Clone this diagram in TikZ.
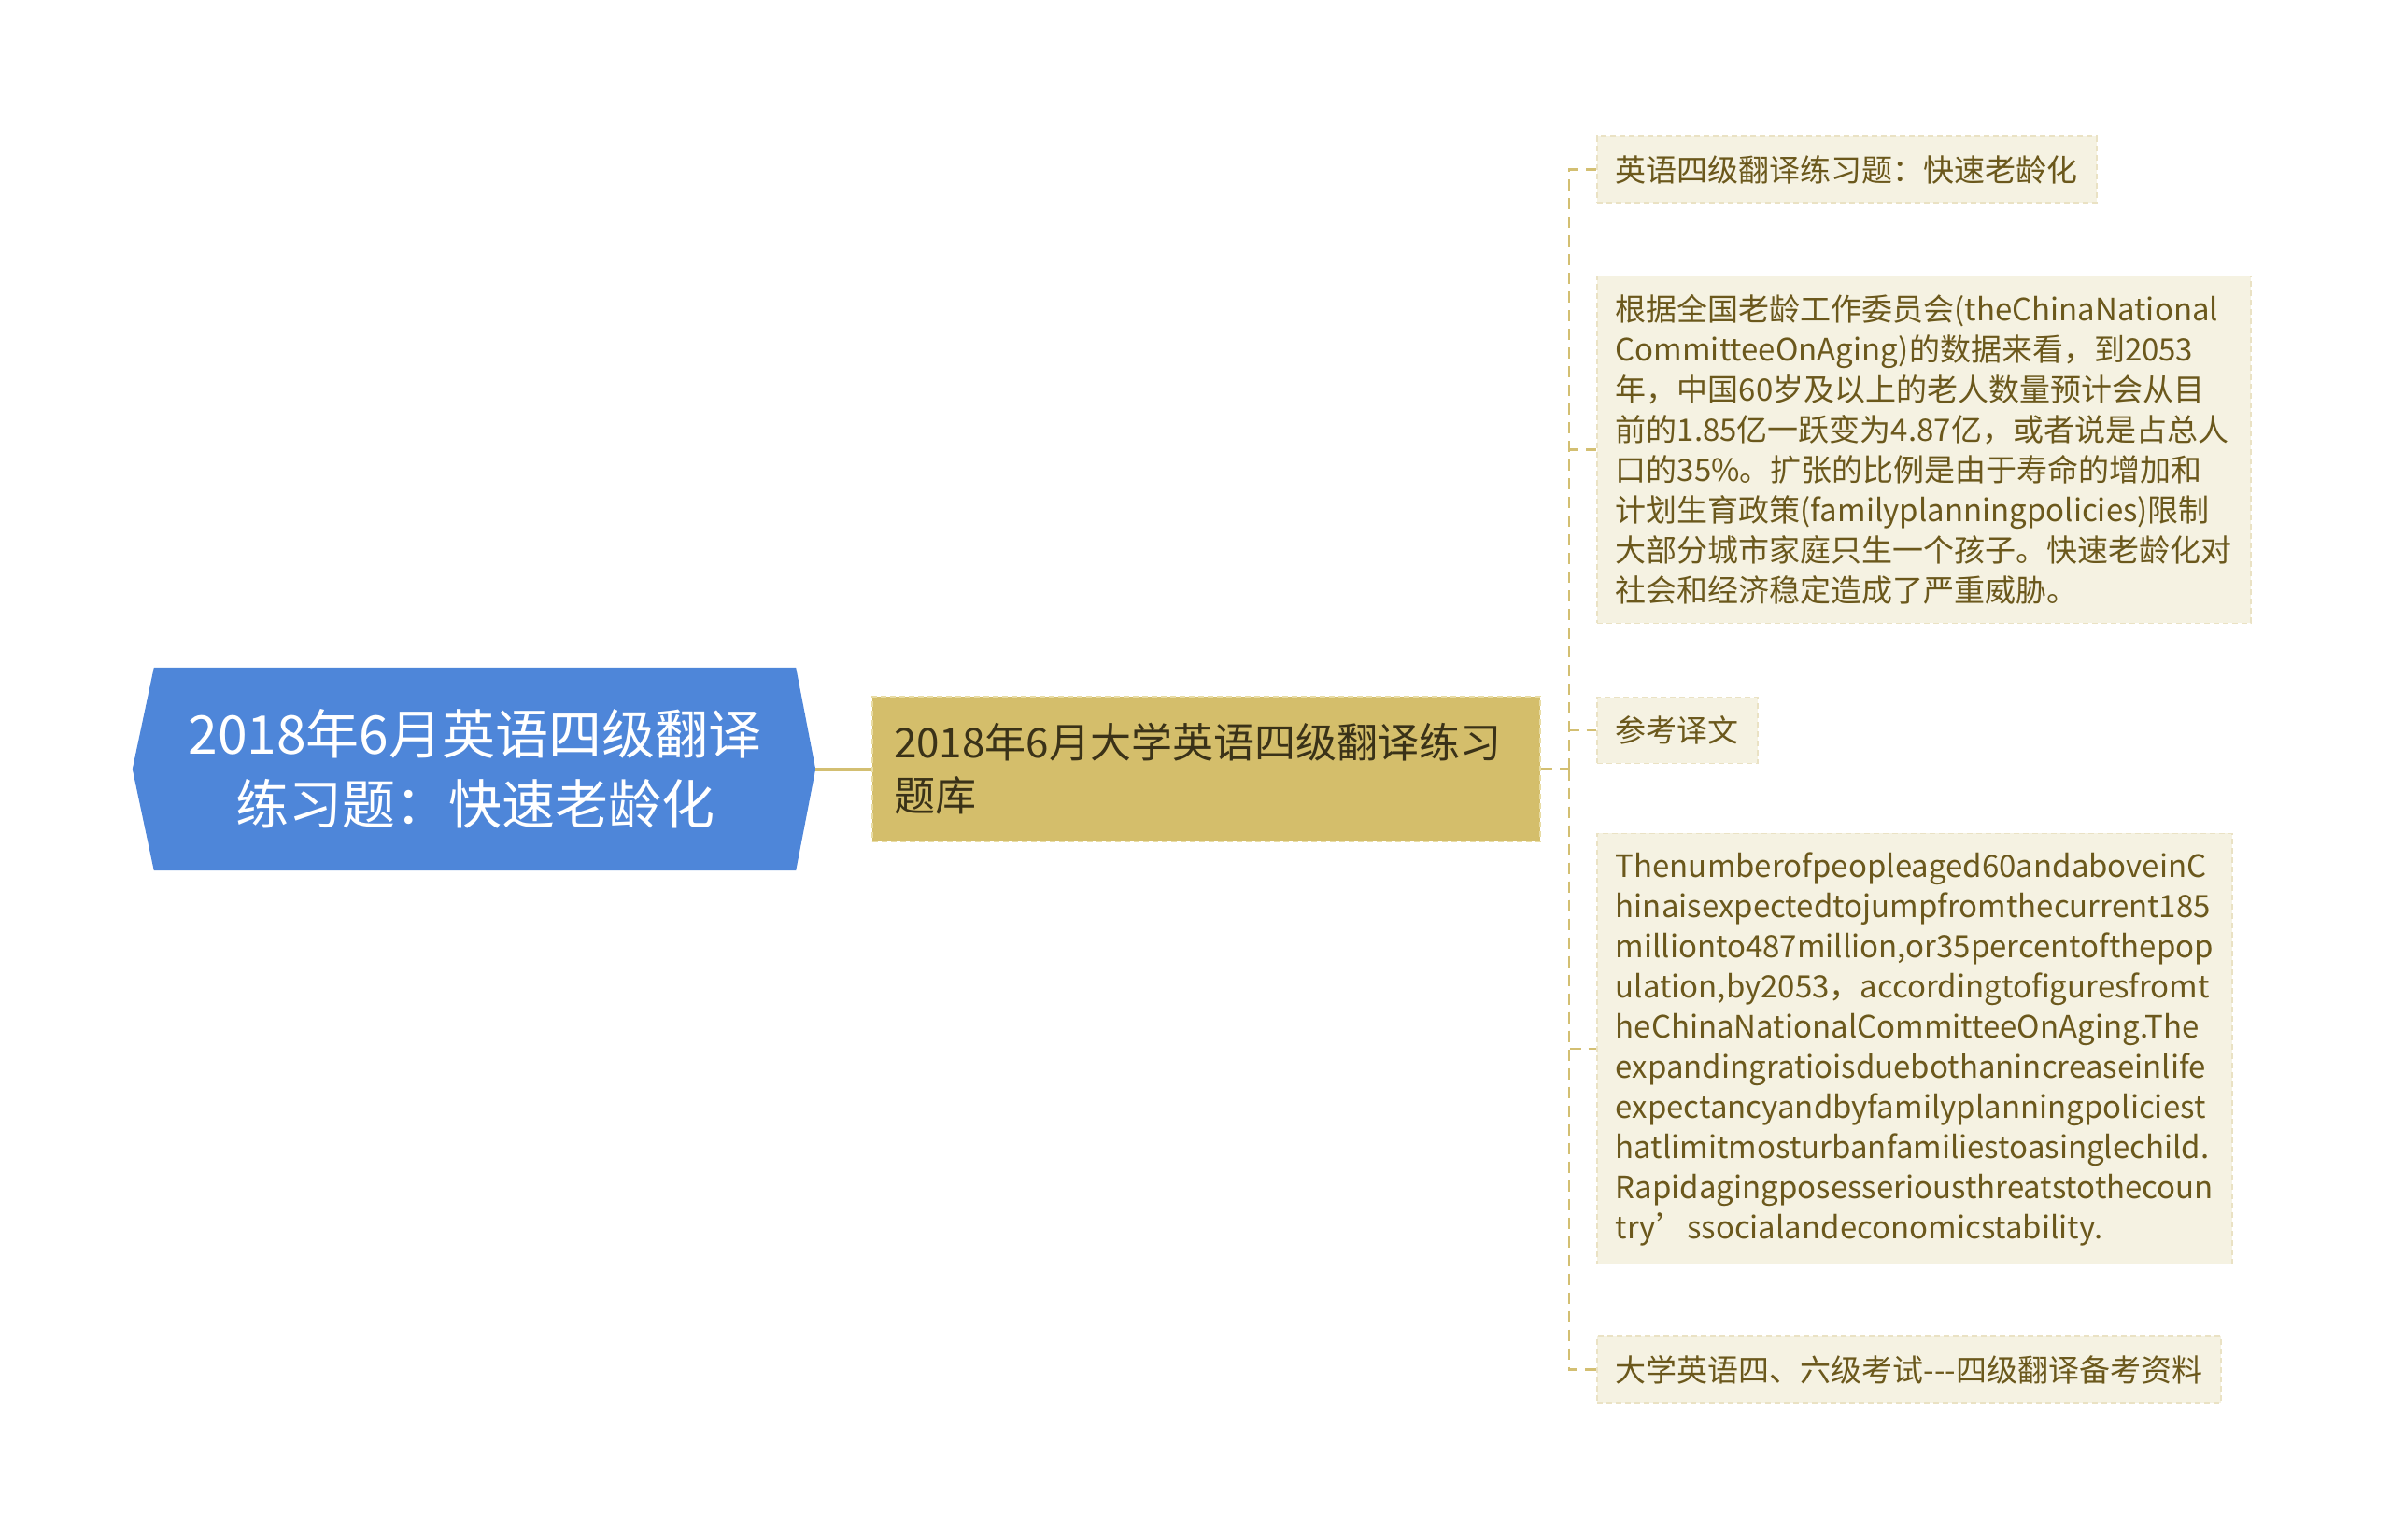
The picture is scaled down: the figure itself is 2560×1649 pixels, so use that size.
\documentclass[tikz,border=0pt]{standalone}
\usepackage{fontspec}
\setmainfont{Noto Sans CJK SC}
\usetikzlibrary{calc}
\definecolor{rootblue}{HTML}{4E86D9}
\definecolor{goldfill}{HTML}{D4BE6B}
\definecolor{goldedge}{HTML}{E8DCA4}
\definecolor{goldline}{HTML}{D3BF72}
\definecolor{creamfill}{HTML}{F5F2E2}
\definecolor{creamedge}{HTML}{EAE2C4}
\definecolor{leaftext}{HTML}{6B581C}
\definecolor{libtext}{HTML}{3A3218}
\tikzset{
  leaf/.style={anchor=west, fill=creamfill, draw=creamedge, dash pattern=on 6pt off 4pt,
    line width=1.5pt, inner xsep=20pt, inner ysep=20pt, text=leaftext, align=left,
    font=\fontsize{33}{43}\selectfont},
  twig/.style={draw=goldline, line width=2.5pt, dash pattern=on 12pt off 8pt},
}
\begin{document}
\begin{tikzpicture}[x=1pt, y=-1pt]
  \useasboundingbox (0,0) rectangle (2560,1649);
  % root
  \node[minimum width=687pt, minimum height=217pt, inner sep=0pt] (root) at (508.5,823.5) {};
  \fill[rootblue] (root.north west) -- (root.north east) -- ($(root.east)+(21,0)$)
    -- (root.south east) -- (root.south west) -- ($(root.west)+(-23,0)$) -- cycle;
  \node[text=white, align=center, font=\fontsize{57}{75}\selectfont] (roottext) at (root.center)
    {2018年6月英语四级翻译\\练习题：快速老龄化};
  % second level
  \node[fill=goldfill, draw=goldedge, dash pattern=on 6pt off 4pt, line width=2pt,
    text width=669pt, inner xsep=23pt, minimum height=155pt, align=left, text=libtext,
    font=\fontsize{44}{57}\selectfont] (lib) at (1291.5,823.5)
    {2018年6月大学英语四级翻译练习\\题库};
  \draw[goldline, line width=4pt] ($(root.east)+(21,0)$) -- (lib.west);
  % leaves
  \node[leaf] (c1) at (1709,181.5) {英语四级翻译练习题：快速老龄化};
  \node[leaf] (c2) at (1709,481.5) {根据全国老龄工作委员会(theChinaNational\\
    CommitteeOnAging)的数据来看，到2053\\
    年，中国60岁及以上的老人数量预计会从目\\
    前的1.85亿一跃变为4.87亿，或者说是占总人\\
    口的35\%。扩张的比例是由于寿命的增加和\\
    计划生育政策(familyplanningpolicies)限制\\
    大部分城市家庭只生一个孩子。快速老龄化对\\
    社会和经济稳定造成了严重威胁。};
  \node[leaf] (c3) at (1709,782) {参考译文};
  \node[leaf] (c4) at (1709,1123) {Thenumberofpeopleaged60andaboveinC\\
    hinaisexpectedtojumpfromthecurrent185\\
    millionto487million,or35percentofthepop\\
    ulation,by2053，accordingtofiguresfromt\\
    heChinaNationalCommitteeOnAging.The\\
    expandingratioisduebothanincreaseinlife\\
    expectancyandbyfamilyplanningpoliciest\\
    hatlimitmosturbanfamiliestoasinglechild.\\
    Rapidagingposesseriousthreatstothecoun\\
    try’ssocialandeconomicstability.};
  \node[leaf] (c5) at (1709,1466.5) {大学英语四、六级考试-{}-{}-四级翻译备考资料};
  % connectors
  \coordinate (bus) at (1680,823.5);
  \draw[twig] (lib.east) -- (bus);
  \foreach \c in {c1,c2,c3,c4,c5}
    \draw[twig] (bus) |- (\c.west);
\end{tikzpicture}
\end{document}
